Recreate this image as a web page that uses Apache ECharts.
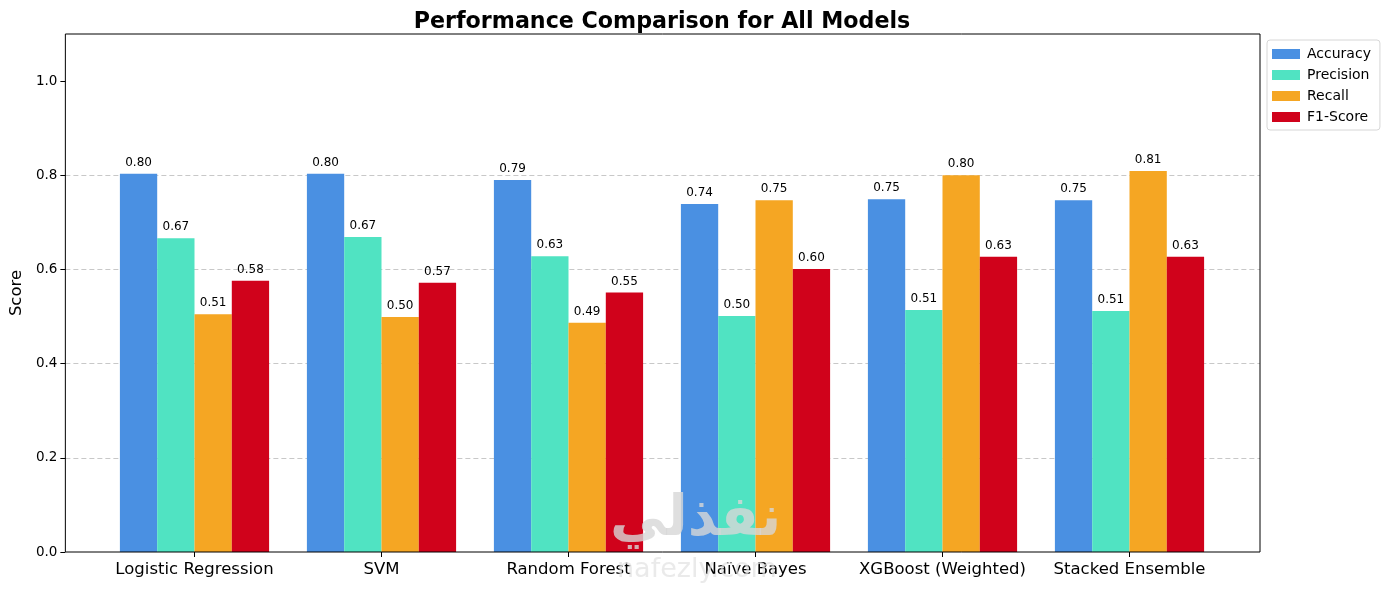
<!DOCTYPE html>
<html lang="en">
<head>
    <meta charset="UTF-8">
    <title>Performance Comparison for All Models</title>
    <script src="https://cdn.jsdelivr.net/npm/echarts@6/dist/echarts.min.js"></script>
</head>
<body style="margin:0">
<div id="myChart" style="width: 1390px;height: 590px"></div>
</body>
<script>
    // data
    var models = ['Logistic Regression', 'SVM', 'Random Forest', 'Naïve Bayes', 'XGBoost (Weighted)', 'Stacked Ensemble'];
    var metrics = ['Accuracy', 'Precision', 'Recall', 'F1-Score'];
    var accuracy = [0.803, 0.803, 0.790, 0.739, 0.749, 0.747];
    var precision = [0.666, 0.669, 0.628, 0.501, 0.514, 0.512];
    var recall = [0.505, 0.499, 0.487, 0.747, 0.800, 0.809];
    var f1 = [0.576, 0.572, 0.551, 0.601, 0.627, 0.627];
    var yTicks = [0, 0.2, 0.4, 0.6, 0.8, 1.0];
    var colors = ['#4A90E2', '#50E3C2', '#F5A623', '#D0021B'];

    var font = 'DejaVu Sans';
    var seriesData = [accuracy, precision, recall, f1];

    var series = metrics.map(function (name, i) {
        return {
            name: name,
            type: 'bar',
            xAxisIndex: 0,
            yAxisIndex: 0,
            barWidth: 37.3,
            barGap: '0%',
            itemStyle: {color: colors[i]},
            label: {
                show: true,
                position: 'top',
                distance: 5,
                fontFamily: font,
                fontSize: 12,
                color: '#000',
                formatter: function (p) { return p.value.toFixed(2); }
            },
            data: seriesData[i]
        };
    });

    var myChart = echarts.init(document.getElementById('myChart'));
    myChart.setOption({
        animation: false,
        color: colors,
        //标题
        title: {
            text: 'Performance Comparison for All Models',
            left: 657,
            textAlign: 'center',
            top: 6,
            textStyle: {fontFamily: font, fontSize: 22.2, fontWeight: 'bold', color: '#000'}
        },
        legend: {
            data: metrics,
            orient: 'vertical',
            left: 1267,
            top: 40,
            padding: [6, 9, 5, 5],
            itemWidth: 28,
            itemHeight: 10,
            itemGap: 5,
            borderColor: '#d6d6d6',
            borderWidth: 1,
            borderRadius: 3,
            icon: 'rect',
            textStyle: {fontFamily: font, fontSize: 14, color: '#000', padding: [0, 0, 0, 2], lineHeight: 16}
        },
        grid: [
            // inner grid that holds the bars
            {left: 101, right: 167, top: 34, bottom: 38},
            // outer frame
            {left: 65, right: 130, top: 34, bottom: 38, show: true, borderColor: '#000', borderWidth: 1, backgroundColor: 'transparent', z: 5}
        ],
        xAxis: [{
            type: 'category',
            gridIndex: 0,
            data: models,
            axisLine: {show: false},
            axisTick: {show: true, alignWithLabel: true, length: 5, lineStyle: {color: '#000'}},
            axisLabel: {fontFamily: font, fontSize: 16.5, color: '#000', margin: 9, interval: 0}
        }, {
            type: 'value',
            gridIndex: 1,
            show: false
        }],
        yAxis: [{
            type: 'value',
            gridIndex: 0,
            min: 0,
            max: 1.1,
            show: false,
            splitLine: {show: false}
        }, {
            type: 'value',
            gridIndex: 1,
            min: 0,
            max: 1.1,
            interval: 0.2,
            name: 'Score',
            nameLocation: 'middle',
            nameGap: 39,
            nameTextStyle: {fontFamily: font, fontSize: 16.5, color: '#000'},
            axisLine: {show: false},
            axisTick: {show: true, length: 5, lineStyle: {color: '#000'}, customValues: yTicks},
            axisLabel: {
                fontFamily: font, fontSize: 13.5, color: '#000', margin: 8,
                customValues: yTicks,
                formatter: function (v) { return v.toFixed(1); }
            },
            splitLine: {show: true, showMinLine: false, showMaxLine: false, lineStyle: {color: '#c8c8c8', type: [5, 3], width: 1}}
        }],
        series: series,
        // faint watermark over the plot
        graphic: [{
            type: 'text',
            left: 610,
            top: 492,
            z: 100,
            style: {text: 'نفذلي', fontFamily: font, fontSize: 56, fontWeight: 'bold', fill: 'rgba(215,215,215,0.8)'}
        }, {
            type: 'text',
            left: 617,
            top: 556,
            z: 100,
            style: {text: 'nafezly.com', fontFamily: font, fontSize: 27, fill: 'rgba(225,225,225,0.7)'}
        }]
    });
</script>
</html>
